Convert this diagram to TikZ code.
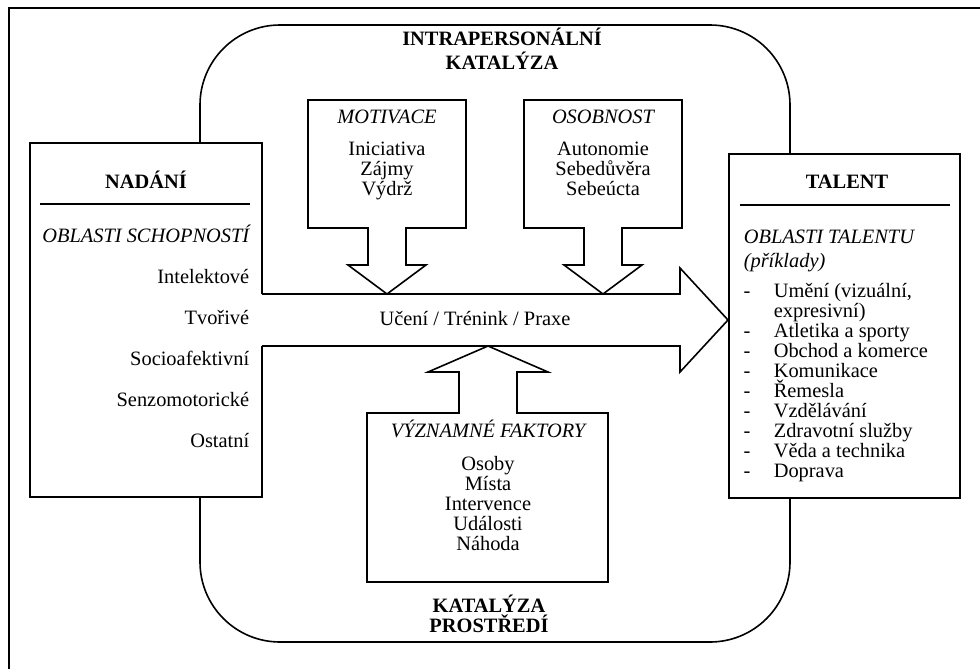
\documentclass[tikz,border=0pt]{standalone}
\usepackage{fontspec}
\setmainfont{Liberation Serif}
\usetikzlibrary{positioning}

\begin{document}
\begin{tikzpicture}[x=0.5pt,y=-0.5pt,line width=0.8pt,
    every node/.style={inner sep=0pt,font=\fontsize{10.2}{10}\selectfont,text height=7pt,text depth=2pt},
    panel/.style={draw,fill=white,line join=miter},
    title/.style={font=\fontsize{10.2}{10}\selectfont\bfseries},
    area/.style={font=\fontsize{10.2}{10}\selectfont\itshape}]
    \useasboundingbox (0,0) rectangle (980,669);

    % page frame (cut off at right and bottom)
    \draw (9,669) -- (9,8) -- (980,8);

    % the two catalysts: one rounded loop behind everything
    \draw[rounded corners=40pt] (200,25) rectangle (790,642);

    % NADANI box, open on the right where the arrow leaves it
    \fill[white] (30,143) rectangle (262,497);
    \draw (262,294) -- (262,143) -- (30,143) -- (30,497) -- (262,497) -- (262,346);
    \draw (40,204) -- (250,204);

    % TALENT box
    \draw[panel] (729,154) rectangle (960,498);
    \draw (740,205) -- (950,205);

    % main arrow
    \draw[panel] (262,294) -- (680,294) -- (680,268) -- (728,320) -- (680,372) -- (680,346) -- (262,346);

    % down arrows from the intrapersonal catalysts
    \foreach \c in {387,603}{
        \draw[panel] ({\c-79},100) -- ({\c+79},100) -- ({\c+79},228) -- ({\c+19},228) -- ({\c+19},265)
            -- ({\c+39},265) -- (\c,294) -- ({\c-39},265) -- ({\c-19},265) -- ({\c-19},228)
            -- ({\c-79},228) -- cycle;
    }
    % up arrow from the environmental catalysts
    \draw[panel] (367,582) -- (608,582) -- (608,413) -- (517,413) -- (517,372) -- (548,372)
        -- (488,346) -- (428,372) -- (459,372) -- (459,413) -- (367,413) -- cycle;

    % headings
    \node[title] (intra1) at (502,41) {INTRAPERSONÁLNÍ};
    \node[title] (intra2) at (502,64) {KATALÝZA};
    \node[title] (env1) at (489,607) {KATALÝZA};
    \node[title] (env2) at (489,627) {PROSTŘEDÍ};
    \node[title] (nadani) at (146,183) {NADÁNÍ};
    \node[title] (talent) at (847,183) {TALENT};
    \node (flow) at (475,320) {Učení / Trénink / Praxe};

    % NADANI: areas of ability
    \node[area,anchor=east] (schop) at (250,237) {OBLASTI SCHOPNOSTÍ};
    \foreach \name [count=\i from 0] in {Intelektové,Tvořivé,Socioafektivní,Senzomotorické,Ostatní}{
        \node[anchor=east] (nad\i) at (250,{278+41*\i}) {\name};
    }

    % MOTIVACE and OSOBNOST
    \node[area] (motiv) at (387,118) {MOTIVACE};
    \foreach \name [count=\i from 0] in {Iniciativa,Zájmy,Výdrž}{
        \node (mot\i) at (387,{150+20*\i}) {\name};
    }
    \node[area] (osob) at (603,118) {OSOBNOST};
    \foreach \name [count=\i from 0] in {Autonomie,Sebedůvěra,Sebeúcta}{
        \node (oso\i) at (603,{150+20*\i}) {\name};
    }

    % VYZNAMNE FAKTORY
    \node[area] (fakt) at (488,432) {VÝZNAMNÉ FAKTORY};
    \foreach \name [count=\i from 0] in {Osoby,Místa,Intervence,Události,Náhoda}{
        \node (fak\i) at (488,{465+20*\i}) {\name};
    }

    % TALENT: areas of talent
    \node[area,anchor=west] (obl1) at (743,238) {OBLASTI TALENTU};
    \node[area,anchor=west] (obl2) at (743,262) {(příklady)};
    \node (dash0) at (747,292) {-};
    \node[anchor=west] (tal0) at (773,292) {Umění (vizuální,};
    \node[anchor=west] (tal1) at (773,312) {expresivní)};
    \foreach \name [count=\i from 2] in {Atletika a sporty,Obchod a komerce,Komunikace,Řemesla,Vzdělávání,Zdravotní služby,Věda a technika,Doprava}{
        \node (dash\i) at (747,{292+20*\i}) {-};% list dash
        \node[anchor=west] (tal\i) at (773,{292+20*\i}) {\name};
    }
\end{tikzpicture}
\end{document}
